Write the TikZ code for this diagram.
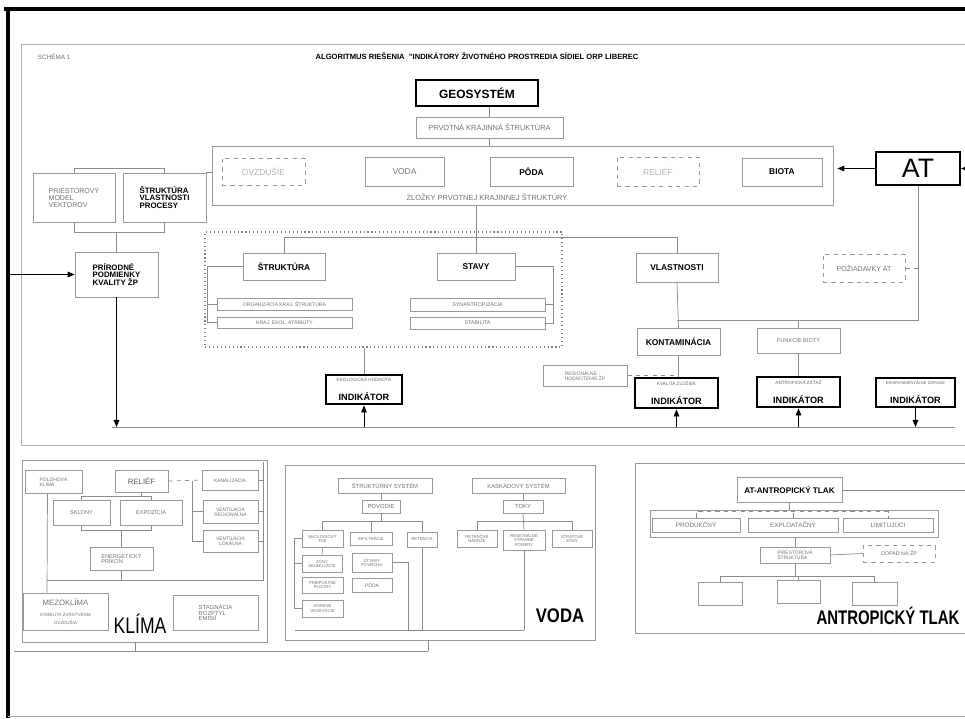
\documentclass[tikz,border=0pt]{standalone}
\usepackage{fontspec}
\usepackage{graphicx}
\setmainfont{Liberation Sans}
\usetikzlibrary{arrows.meta,calc}
\newcommand\fs[1]{\fontsize{#1}{#1}\selectfont}
\newcommand\indlab[2][3.3]{{\fs{#1}\color{black!60}#2}\\[1.5pt]{\fs{6.5}\bfseries INDIKÁTOR}}
\newcommand\bxn[7][]{%
 \pgfmathsetmacro\bxcx{(#3+#5)/2}\pgfmathsetmacro\bxcy{(#4+#6)/2}%
 \pgfmathsetmacro\bxw{(#5-#3)*0.025}\pgfmathsetmacro\bxh{(#6-#4)*0.025}%
 \node[#1,minimum width=\bxw cm,minimum height=\bxh cm] (#2) at (\bxcx,\bxcy) {#7};}
\begin{document}
\begin{tikzpicture}[x=0.025cm,y=-0.025cm,
 bx/.style={draw=black!40,line width=0.5pt,inner sep=0pt,fill=white,font=\fs{4.5},text=black!55,align=center},
 bb/.style={bx,font=\fs{6}\bfseries,text=black},
 gb/.style={bx,font=\fs{6},text=black!40},
 ind/.style={draw=black,line width=2pt,inner sep=0pt,fill=white,align=center},
 ln/.style={draw=black!45,line width=0.5pt},
 dl/.style={ln,dashed},
 arr/.style={-{Triangle[length=5pt,width=4pt]},draw=black,line width=0.6pt}]
\useasboundingbox (0,0) rectangle (965,718);
\fill[white] (0,0) rectangle (965,718);
% frame
\draw[line width=2.2pt] (4,9) -- (965,9);
\draw[line width=2.2pt] (8,9) -- (8,718);
\draw[black!35] (8,716) -- (965,716);
\draw[black!30,line width=0.6pt] (21,44) -- (965,44);
\draw[black!30,line width=0.6pt] (21,44) -- (21,445) -- (965,445);
% header
\node[anchor=west,font=\fs{4.5},text=black!55] (sch) at (33,57) {SCHÉMA 1};
\node[font=\fs{5.4}\bfseries] (title) at (477,56) {ALGORITMUS RIEŠENIA \ "INDIKÁTORY ŽIVOTNÉHO PROSTREDIA SÍDIEL ORP LIBEREC};
% top chain
\bxn[ind,line width=1.8pt,font=\fs{8.5}\bfseries]{geo}{416}{80}{538}{106}{GEOSYSTÉM}
\bxn[bx,font=\fs{5.3}]{pks}{416}{117}{563}{138}{PRVOTNÁ KRAJINNÁ ŠTRUKTÚRA}
\bxn[bx]{zl}{212}{146}{833}{205}{}
\node[font=\fs{5.3},text=black!55] (zlt) at (487,197) {ZLOŽKY PRVOTNEJ KRAJINNEJ ŠTRUKTÚRY};
\bxn[gb,dashed,text=black!30]{ovz}{222}{158}{305}{185}{OVZDUŠIE}
\bxn[bx,font=\fs{6}]{vod}{365}{157}{444}{186}{VODA}
\bxn[bb]{poda}{490}{157}{573}{186}{PÔDA}
\bxn[gb,dashed,text=black!30]{rel}{617}{157}{699}{186}{RELIÉF}
\bxn[bb]{bio}{742}{158}{822}{186}{BIOTA}
\bxn[ind,line width=1.5pt,font=\fs{19}]{at}{876}{152}{960}{185}{AT}
\draw[ln] (geo.south -| pks) -- (pks.north);
\draw[ln] (pks.south) -- (pks.south |- zl.north);
\draw[arr] (at.west) -- ($(zl.east |- at.west)+(4,0)$);
\coordinate (rin) at (965,168.5);
\draw[arr] (rin) -- (at.east);
% left column
\bxn[bx,align=left,font=\fs{5}]{pm}{33}{173}{115}{222}{PRIESTOROVÝ\\MODEL\\VEKTOROV}
\bxn[bb,align=left,font=\fs{5.6}\bfseries]{svp}{123}{173}{206}{222}{ŠTRUKTÚRA\\VLASTNOSTI\\PROCESY}
\bxn[bb,align=left,font=\fs{5.6}\bfseries]{pp}{75}{252}{158}{297}{PRÍRODNÉ\\PODMIENKY\\KVALITY ŽP}
\draw[ln] (pm.north) -- ++(0,-4) -| (svp.north);
\draw[ln] (svp.north east) -- (svp.north east -| zl.west);
\draw[ln] (pm.south) -- ++(0,10) -| (svp.south);
\draw[ln] (pp.north) -- ++(0,-20);
\coordinate (lin) at (9,274.5);
\draw[arr] (lin) -- (pp.west);
% dotted group
\bxn[draw=black!50,dotted,line width=0.8pt,inner sep=0pt]{dot}{205}{232}{562}{347}{}
\bxn[bb]{str}{243}{253}{325}{280}{ŠTRUKTÚRA}
\bxn[bb]{stv}{437}{253}{515}{280}{STAVY}
\bxn[bx,font=\fs{3.6}]{s1}{217}{298}{352}{310}{ORGANIZÁCIA KRAJ. ŠTRUKTÚRA}
\bxn[bx,font=\fs{3.6}]{s2}{217}{317}{352}{328}{KRAJ. EKOL. ATRIBÚTY}
\bxn[bx,font=\fs{3.8}]{s3}{410}{298}{545}{311}{SYNANTROPIZÁCIA}
\bxn[bx,font=\fs{3.8}]{s4}{410}{317}{545}{329}{STABILITA}
\draw[ln] (str.west) -- ++(-35,0) |- (s2.west);
\draw[ln] (s1.west) -- ++(-9,0);
\draw[ln] (stv.east) -- ++(38,0) |- (s4.east);
\draw[ln] (s3.east) -- ++(8,0);
\draw[ln] (zl.south -| stv) -- (stv.north);
\bxn[bb]{vl}{636}{253}{718}{282}{VLASTNOSTI}
\draw[ln] (str.north) -- ++(0,-15) -| (vl.north);
\bxn[bx,dashed,font=\fs{5}]{poz}{823}{254}{905}{282}{POŽIADAVKY AT}
\draw[dl] (poz.east) -- (poz.east -| at.south);
% right chain
\bxn[bb]{kont}{637}{328}{720}{355}{KONTAMINÁCIA}
\bxn[bx,font=\fs{4}]{fb}{757}{328}{840}{353}{FUNKCIE BIOTY}
\bxn[bx,font=\fs{3.5},align=left]{reg}{543}{365}{627}{386}{REGIONÁLNE\\HODNOTENIE ŽP}
\coordinate (j1) at (677,320);
\draw[ln] (at.south) |- (j1);
\draw[ln] (vl.south) -- (kont.north);
\draw[ln] (fb.north) -- (fb.north |- j1);
% indicators
\bxn[ind]{i1}{326}{375}{402}{404}{\indlab{EKOLOGICKÁ HODNOTA}}
\bxn[ind]{i2}{635}{378}{718}{408}{\indlab{KVALITA ZLOŽIEK}}
\bxn[ind]{i3}{757}{377}{840}{407}{\indlab{ANTROPICKÁ ZÁŤAŽ}}
\bxn[ind]{i4}{876}{378}{955}{407}{\indlab[2.9]{ENVIRONMENTÁLNE ZDRAVIE}}
\draw[ln] (dot.south -| i1) -- (i1.north);
\draw[ln] (kont.south) -- (kont.south |- i2.north);
\draw[ln] (fb.south) -- (fb.south |- i3.north);
\draw[dl] (reg.east) -- (reg.east -| kont.south);
\coordinate (bl) at (112,427);
\coordinate (br) at (955,427);
\draw[ln] (bl) -- (br);
\draw[arr] (pp.south) -- (pp.south |- bl);
\draw[arr] (i1.south |- bl) -- (i1.south);
\draw[arr] (i2.south |- bl) -- (i2.south);
\draw[arr] (i3.south |- bl) -- (i3.south);
\draw[arr] (i4.south) -- (i4.south |- bl);
% ===== KLIMA panel
\bxn[bx,fill=none]{kp}{22}{460}{267}{642}{}
\draw[ln] (47,580) -- (263,580) -- (263,462);
\bxn[bx,font=\fs{3.5},align=left]{pk}{25}{470}{82}{493}{POLOHOVÁ\\KLÍMA}
\bxn[bx,font=\fs{5.5},text=black!65]{krel}{115}{470}{168}{492}{RELIÉF}
\bxn[bx,font=\fs{3.5}]{kan}{202}{470}{258}{490}{KANALIZÁCIA}
\bxn[bx,font=\fs{3.5}]{vr}{203}{500}{258}{523}{VENTILÁCIA\\REGIONÁLNA}
\bxn[bx,font=\fs{3.5}]{vlk}{203}{530}{258}{552}{VENTILÁCIA\\LOKÁLNA}
\bxn[bx,font=\fs{4}]{skl}{53}{500}{110}{525}{SKLONY}
\bxn[bx,font=\fs{4}]{exz}{120}{500}{182}{525}{EXPOZÍCIA}
\bxn[bx,font=\fs{4},align=left]{en}{90}{547}{153}{570}{ENERGETICKÝ\\PRÍKON}
\bxn[bx,font=\fs{5.5}]{mez}{23}{593}{108}{630}{MEZOKLÍMA\\[3pt]{\fs{3.2}STABILITA ZVRSTVENIA}\\{\fs{3.2}OVZDUŠIA}}
\bxn[bx,font=\fs{4.2},align=left]{stg}{173}{595}{258}{630}{STAGNÁCIA\\ROZPTYL\\EMISIÍ}
\node[font=\fs{16}] (klt) at (140,624) {\scalebox{0.78}[1]{KLÍMA}};
\draw[ln] (skl.north) -- ++(0,-3) -| (exz.north);
\draw[ln] (krel.south) -- ++(0,5);
\draw[ln] (skl.south) -- ++(0,5) -| (exz.south);
\draw[ln] (en.north) -- ++(0,-17);
\draw[ln] (en.south) -- ++(0,10);
\coordinate (kj) at (192,481);
\draw[dl] (krel.east) -- (kan.west);
\draw[ln] (kj) |- (vr.west);
\draw[ln] (kj) |- (vlk.west);
\draw[dl] (kan.east) -- ++(8,0);
\draw[dl] (vr.east) -- ++(8,0);
\draw[dl] (vlk.east) -- ++(8,0);
\draw[ln] ($(pk.south)+(-6,0)$) -- ($(mez.north)+(-18.5,0)$);
% bottom connector
\coordinate (kb) at (135,651);
\coordinate (vb) at (428,651);
\draw[ln] (14,651) -- (vb);
\draw[ln] (kp.south -| kb) -- (kb);
% ===== VODA panel
\bxn[bx,fill=none]{vp}{285}{465}{595}{640}{}
\bxn[bx,font=\fs{4.2}]{ss}{338}{478}{432}{493}{ŠTRUKTÚRNY SYSTÉM}
\bxn[bx,font=\fs{4.2}]{pov}{362}{500}{400}{513}{POVODIE}
\bxn[bx,font=\fs{4.2}]{ks}{472}{478}{565}{493}{KASKÁDOVÝ SYSTÉM}
\bxn[bx,font=\fs{4.2}]{tok}{503}{500}{543}{513}{TOKY}
\bxn[bx,font=\fs{3}]{v1}{302}{530}{343}{547}{EKOLOGICKÝ\\TOK}
\bxn[bx,font=\fs{3}]{v2}{350}{532}{392}{545}{INFILTRÁCIA}
\bxn[bx,font=\fs{3}]{v3}{407}{532}{437}{547}{RETENCIA}
\bxn[bx,font=\fs{3}]{v4}{457}{530}{497}{547}{RETENČNÉ\\NÁDRŽE}
\bxn[bx,font=\fs{3}]{v5}{503}{530}{545}{550}{REGIONÁLNE\\VÝPARNÉ\\POMERY}
\bxn[bx,font=\fs{3}]{v6}{552}{530}{592}{547}{STRATOVÉ\\ZÓNY}
\bxn[bx,font=\fs{3}]{v7}{302}{555}{342}{572}{ZÓNY\\AKUMULÁCIE}
\bxn[bx,font=\fs{3}]{v8}{352}{553}{392}{572}{ÚTVARY\\POVRCHU}
\bxn[bx,font=\fs{3}]{v9}{302}{577}{343}{593}{PRIEPUSTNÉ\\PLOCHY}
\bxn[bx,font=\fs{3.5}]{v10}{352}{578}{392}{592}{PÔDA}
\bxn[bx,font=\fs{3}]{v11}{302}{600}{343}{617}{KORENE\\VEGETÁCIE}
\node[font=\fs{14}\bfseries] (vdt) at (560,616) {\scalebox{0.85}[1]{VODA}};
\draw[ln] (ss.south -| pov) -- (pov.north);
\draw[ln] (ks.south -| tok) -- (tok.north);
\draw[ln] (pov.south) -- ++(0,9);
\draw[ln] (v1.north) -- ++(0,-8) -| (v3.north);
\draw[ln] (v2.north) -- ++(0,-10);
\draw[ln] (tok.south) -- (v5.north);
\draw[ln] (v4.north) -- ++(0,-8) -| (v6.north);
\coordinate (vbl) at (295,630);
\draw[ln] (v1.south) -- (v7.north);
\draw[ln] (v1.west) -- ++(-7,0) |- (v11.west);
\draw[ln] (v7.west) -- ++(-7,0);
\draw[ln] (vbl) -- (vbl -| v5.south);
\draw[ln] (v5.south) -- (v5.south |- vbl);
\draw[ln] (v3.south) -- (v3.south |- vbl);
\draw[ln] (v8.east) -- ++(16,0) -- ($(v8.east |- vbl)+(16,0)$);
\draw[ln] (vp.south -| vb) -- (vb);
% ===== ANTROPICKY panel
\bxn[bx,fill=none]{ap}{635}{463}{965}{633}{}
\bxn[bx,font=\fs{5.8}\bfseries,text=black]{atk}{737}{477}{842}{502}{AT-ANTROPICKÝ TLAK}
\bxn[bx,fill=none]{grp}{650}{510}{938}{537}{}
\bxn[bx,font=\fs{4.5}]{prod}{652}{518}{740}{532}{PRODUKČNÝ}
\bxn[bx,font=\fs{4.5}]{expl}{748}{518}{838}{532}{EXPLOATAČNÝ}
\bxn[bx,font=\fs{4.5}]{lim}{843}{518}{933}{532}{LIMITUJÚCI}
\bxn[bx,font=\fs{3.5},align=left]{pst}{760}{547}{830}{563}{PRIESTOROVÁ\\ŠTRUKTÚRA}
\bxn[bx,dashed,font=\fs{3.8}]{dop}{863}{545}{935}{562}{DOPAD NA ŽP}
\bxn[bx]{e1}{698}{582}{742}{605}{}
\bxn[bx]{e2}{777}{580}{820}{603}{}
\bxn[bx]{e3}{852}{582}{897}{605}{}
\node[font=\fs{14}\bfseries] (att) at (888,616) {\scalebox{0.76}[1]{ANTROPICKÝ TLAK}};
\coordinate (ao) at (965,490);
\draw[ln] (atk.east |- ao) -- (ao);
\draw[ln] (atk.south) -- (atk.south |- grp.north);
\draw[dl] (prod.north) -- ++(0,-6) -| (lim.north);
\draw[dl] (expl.north) -- ++(0,-6);
\draw[ln] (grp.south -| pst) -- (pst.north);
\draw[ln] (pst.east) -- (dop.west);
\draw[ln] (pst.south) -- ++(0,14);
\draw[ln] (e1.north) -- ++(0,-5) -| (e3.north);
\draw[ln] (e2.north) -- ++(0,-3);
\end{tikzpicture}
\end{document}
